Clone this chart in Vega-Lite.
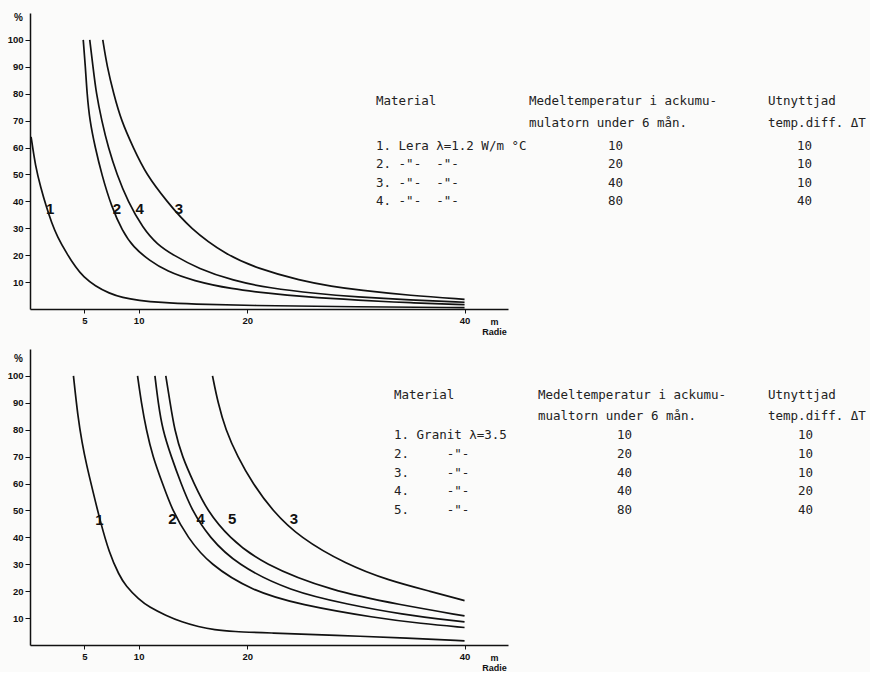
{
  "$schema": "https://vega.github.io/schema/vega-lite/v6.json",
  "background": "#fbfbfa",
  "padding": {"left": 7, "top": 12, "right": 0, "bottom": 0},
  "spacing": 13,
  "config": {
    "view": {"stroke": null},
    "axis": {"labelFont": "Liberation Sans", "titleFont": "Liberation Sans", "domainColor": "#111", "tickColor": "#111", "labelColor": "#111", "titleColor": "#111", "grid": false, "labelOverlap": false}
  },
  "datasets": {
    "top_curves": [
      {"curve": "1", "r": 0.1, "p": 64}, {"curve": "1", "r": 0.5, "p": 53}, {"curve": "1", "r": 1, "p": 45}, {"curve": "1", "r": 1.5, "p": 38}, {"curve": "1", "r": 2, "p": 32}, {"curve": "1", "r": 2.5, "p": 27}, {"curve": "1", "r": 3.4, "p": 20.5}, {"curve": "1", "r": 4.2, "p": 15.5}, {"curve": "1", "r": 4.9, "p": 12}, {"curve": "1", "r": 6, "p": 8.5}, {"curve": "1", "r": 7.3, "p": 5.8}, {"curve": "1", "r": 8.5, "p": 4.2}, {"curve": "1", "r": 10, "p": 3.2}, {"curve": "1", "r": 12, "p": 2.4}, {"curve": "1", "r": 15, "p": 1.8}, {"curve": "1", "r": 20, "p": 1.3}, {"curve": "1", "r": 30, "p": 0.8}, {"curve": "1", "r": 40, "p": 0.5},
      {"curve": "2", "r": 4.9, "p": 100}, {"curve": "2", "r": 5.1, "p": 90}, {"curve": "2", "r": 5.25, "p": 80}, {"curve": "2", "r": 5.5, "p": 70}, {"curve": "2", "r": 6.0, "p": 60}, {"curve": "2", "r": 6.6, "p": 50}, {"curve": "2", "r": 7.5, "p": 38}, {"curve": "2", "r": 8.5, "p": 29}, {"curve": "2", "r": 9.5, "p": 23}, {"curve": "2", "r": 11, "p": 18}, {"curve": "2", "r": 12.6, "p": 14}, {"curve": "2", "r": 15, "p": 10.5}, {"curve": "2", "r": 18.6, "p": 7.4}, {"curve": "2", "r": 22, "p": 5.8}, {"curve": "2", "r": 25, "p": 4.6}, {"curve": "2", "r": 30.3, "p": 3.2}, {"curve": "2", "r": 35, "p": 2.3}, {"curve": "2", "r": 40, "p": 1.6},
      {"curve": "4", "r": 5.5, "p": 100}, {"curve": "4", "r": 5.8, "p": 90}, {"curve": "4", "r": 6.1, "p": 80}, {"curve": "4", "r": 6.6, "p": 70}, {"curve": "4", "r": 7.2, "p": 60}, {"curve": "4", "r": 8.0, "p": 50}, {"curve": "4", "r": 9.0, "p": 40}, {"curve": "4", "r": 10.4, "p": 30}, {"curve": "4", "r": 11.7, "p": 24}, {"curve": "4", "r": 13.2, "p": 20}, {"curve": "4", "r": 15.5, "p": 15}, {"curve": "4", "r": 18.7, "p": 10.5}, {"curve": "4", "r": 22, "p": 7.8}, {"curve": "4", "r": 26.4, "p": 5.7}, {"curve": "4", "r": 30, "p": 4.5}, {"curve": "4", "r": 35, "p": 3.3}, {"curve": "4", "r": 40, "p": 2.5},
      {"curve": "3", "r": 6.7, "p": 100}, {"curve": "3", "r": 7.1, "p": 90}, {"curve": "3", "r": 7.7, "p": 80}, {"curve": "3", "r": 8.4, "p": 70}, {"curve": "3", "r": 9.5, "p": 60}, {"curve": "3", "r": 10.7, "p": 50}, {"curve": "3", "r": 12.6, "p": 40}, {"curve": "3", "r": 14.7, "p": 30}, {"curve": "3", "r": 18.1, "p": 20}, {"curve": "3", "r": 21, "p": 15}, {"curve": "3", "r": 24.9, "p": 10.5}, {"curve": "3", "r": 27.8, "p": 8.4}, {"curve": "3", "r": 30.3, "p": 7}, {"curve": "3", "r": 35, "p": 5}, {"curve": "3", "r": 40, "p": 3.6}
    ],
    "top_labels": [
      {"r": 1.85, "p": 37, "label": "1"}, {"r": 8.0, "p": 37, "label": "2"}, {"r": 10.1, "p": 37, "label": "4"}, {"r": 13.7, "p": 37, "label": "3"}
    ],
    "top_table": [
      {"col": 1, "row": 1, "text": "Material"},
      {"col": 2, "row": 1, "text": "Medeltemperatur i ackumu-"},
      {"col": 4, "row": 1, "text": "Utnyttjad"},
      {"col": 2, "row": 2, "text": "mulatorn under 6 mån."},
      {"col": 4, "row": 2, "text": "temp.diff. ΔT"},
      {"col": 1, "row": 3, "text": "1. Lera λ=1.2 W/m °C"},
      {"col": 1, "row": 4, "text": "2.\u00a0-\"-\u00a0\u00a0-\"-"},
      {"col": 1, "row": 5, "text": "3.\u00a0-\"-\u00a0\u00a0-\"-"},
      {"col": 1, "row": 6, "text": "4.\u00a0-\"-\u00a0\u00a0-\"-"},
      {"col": 3, "row": 3, "text": "10"}, {"col": 5, "row": 3, "text": "10"},
      {"col": 3, "row": 4, "text": "20"}, {"col": 5, "row": 4, "text": "10"},
      {"col": 3, "row": 5, "text": "40"}, {"col": 5, "row": 5, "text": "10"},
      {"col": 3, "row": 6, "text": "80"}, {"col": 5, "row": 6, "text": "40"}
    ],
    "bot_curves": [
      {"curve": "1", "r": 4.0, "p": 100}, {"curve": "1", "r": 4.4, "p": 85}, {"curve": "1", "r": 4.8, "p": 75}, {"curve": "1", "r": 5.2, "p": 67}, {"curve": "1", "r": 5.8, "p": 57}, {"curve": "1", "r": 6.4, "p": 47}, {"curve": "1", "r": 7.3, "p": 34}, {"curve": "1", "r": 8.2, "p": 26}, {"curve": "1", "r": 8.8, "p": 22}, {"curve": "1", "r": 10, "p": 17}, {"curve": "1", "r": 11, "p": 14}, {"curve": "1", "r": 12.5, "p": 11}, {"curve": "1", "r": 14, "p": 8.5}, {"curve": "1", "r": 15.5, "p": 6.8}, {"curve": "1", "r": 17, "p": 5.6}, {"curve": "1", "r": 18.6, "p": 5}, {"curve": "1", "r": 22, "p": 4.5}, {"curve": "1", "r": 28, "p": 3.6}, {"curve": "1", "r": 35, "p": 2.6}, {"curve": "1", "r": 40, "p": 1.5},
      {"curve": "2", "r": 9.9, "p": 100}, {"curve": "2", "r": 10.25, "p": 90}, {"curve": "2", "r": 10.7, "p": 80}, {"curve": "2", "r": 11.3, "p": 70}, {"curve": "2", "r": 12.2, "p": 60}, {"curve": "2", "r": 13.1, "p": 50}, {"curve": "2", "r": 14.5, "p": 40}, {"curve": "2", "r": 16.5, "p": 30}, {"curve": "2", "r": 20.5, "p": 20}, {"curve": "2", "r": 24.8, "p": 15}, {"curve": "2", "r": 31.9, "p": 10}, {"curve": "2", "r": 36, "p": 8}, {"curve": "2", "r": 40, "p": 6.5},
      {"curve": "4", "r": 11.5, "p": 100}, {"curve": "4", "r": 11.8, "p": 90}, {"curve": "4", "r": 12.2, "p": 80}, {"curve": "4", "r": 13.0, "p": 70}, {"curve": "4", "r": 13.9, "p": 60}, {"curve": "4", "r": 14.9, "p": 50}, {"curve": "4", "r": 16.5, "p": 40}, {"curve": "4", "r": 19.0, "p": 30}, {"curve": "4", "r": 23.9, "p": 20}, {"curve": "4", "r": 29.4, "p": 15}, {"curve": "4", "r": 34, "p": 11.5}, {"curve": "4", "r": 40, "p": 8.6},
      {"curve": "5", "r": 12.5, "p": 100}, {"curve": "5", "r": 12.9, "p": 90}, {"curve": "5", "r": 13.3, "p": 80}, {"curve": "5", "r": 14.0, "p": 70}, {"curve": "5", "r": 15.1, "p": 60}, {"curve": "5", "r": 16.3, "p": 50}, {"curve": "5", "r": 18.3, "p": 40}, {"curve": "5", "r": 21.4, "p": 30}, {"curve": "5", "r": 27.8, "p": 20}, {"curve": "5", "r": 34, "p": 15}, {"curve": "5", "r": 40, "p": 10.8},
      {"curve": "3", "r": 16.8, "p": 100}, {"curve": "3", "r": 17.3, "p": 90}, {"curve": "3", "r": 18.0, "p": 80}, {"curve": "3", "r": 19.1, "p": 70}, {"curve": "3", "r": 20.5, "p": 60}, {"curve": "3", "r": 22.3, "p": 50}, {"curve": "3", "r": 24.8, "p": 40}, {"curve": "3", "r": 29.1, "p": 30}, {"curve": "3", "r": 33, "p": 24}, {"curve": "3", "r": 37, "p": 19.8}, {"curve": "3", "r": 40, "p": 16.5}
    ],
    "bot_labels": [
      {"r": 6.4, "p": 46.5, "label": "1"}, {"r": 13.1, "p": 47, "label": "2"}, {"r": 15.7, "p": 47, "label": "4"}, {"r": 18.6, "p": 47, "label": "5"}, {"r": 24.3, "p": 47, "label": "3"}
    ],
    "bot_table": [
      {"col": 1, "row": 1, "text": "Material"},
      {"col": 2, "row": 1, "text": "Medeltemperatur i ackumu-"},
      {"col": 4, "row": 1, "text": "Utnyttjad"},
      {"col": 2, "row": 2, "text": "mualtorn under 6 mån."},
      {"col": 4, "row": 2, "text": "temp.diff. ΔT"},
      {"col": 1, "row": 3, "text": "1. Granit λ=3.5"},
      {"col": 1, "row": 4, "text": "2.\u00a0\u00a0\u00a0\u00a0\u00a0-\"-"},
      {"col": 1, "row": 5, "text": "3.\u00a0\u00a0\u00a0\u00a0\u00a0-\"-"},
      {"col": 1, "row": 6, "text": "4.\u00a0\u00a0\u00a0\u00a0\u00a0-\"-"},
      {"col": 1, "row": 7, "text": "5.\u00a0\u00a0\u00a0\u00a0\u00a0-\"-"},
      {"col": 3, "row": 3, "text": "10"}, {"col": 5, "row": 3, "text": "10"},
      {"col": 3, "row": 4, "text": "20"}, {"col": 5, "row": 4, "text": "10"},
      {"col": 3, "row": 5, "text": "40"}, {"col": 5, "row": 5, "text": "10"},
      {"col": 3, "row": 6, "text": "40"}, {"col": 5, "row": 6, "text": "20"},
      {"col": 3, "row": 7, "text": "80"}, {"col": 5, "row": 7, "text": "40"}
    ]
  },
  "vconcat": [
    {
      "width": 840,
      "height": 296,
      "resolve": {"scale": {"x": "independent", "y": "independent"}},
      "layer": [
        {
          "data": {"name": "top_curves"},
          "mark": {"type": "line", "color": "#111", "strokeWidth": 1.7, "interpolate": "basis"},
          "encoding": {
            "x": {"field": "r", "type": "quantitative", "scale": {"domain": [0, 44], "range": [0, 478], "nice": false},
              "axis": {"values": [5, 10, 20, 40], "title": ["m", "Radie"], "titleX": 464, "titleY": 8, "titleAlign": "center", "titleBaseline": "top", "titleLineHeight": 10, "titleFontSize": 9, "titleFontWeight": "bold", "labelFontSize": 9.5, "labelFontWeight": "bold", "tickSize": 4, "labelPadding": 2, "domainWidth": 1.5, "labelOverlap": false}},
            "y": {"field": "p", "type": "quantitative", "scale": {"domain": [0, 110], "nice": false},
              "axis": {"values": [10, 20, 30, 40, 50, 60, 70, 80, 90, 100], "title": "%", "titleAngle": 0, "titleX": -12, "titleY": 4, "titleAlign": "center", "titleBaseline": "middle", "titleFontSize": 10, "titleFontWeight": "bold", "labelFontSize": 9.5, "labelFontWeight": "bold", "tickSize": 5, "labelPadding": 2, "domainWidth": 1.5, "labelOverlap": false}},
            "detail": {"field": "curve"}
          }
        },
        {
          "data": {"name": "top_labels"},
          "mark": {"type": "text", "font": "Liberation Sans", "fontSize": 15, "fontWeight": "bold", "color": "#111", "baseline": "middle"},
          "encoding": {
            "x": {"field": "r", "type": "quantitative", "scale": {"domain": [0, 44], "range": [0, 478], "nice": false}, "axis": null},
            "y": {"field": "p", "type": "quantitative", "scale": {"domain": [0, 110], "nice": false}, "axis": null},
            "text": {"field": "label"}
          }
        },
        {
          "data": {"name": "top_table"},
          "mark": {"type": "text", "font": "DejaVu Sans Mono", "fontSize": 12.5, "color": "#222", "align": "left", "baseline": "middle"},
          "encoding": {
            "x": {"field": "col", "type": "quantitative", "scale": {"domain": [1, 2, 3, 4, 5], "range": [346, 499, 578, 738, 767], "zero": false, "nice": false}, "axis": null},
            "y": {"field": "row", "type": "quantitative", "scale": {"domain": [1, 2, 3, 6], "range": [88, 110, 133, 188], "zero": false, "nice": false}, "axis": null},
            "text": {"field": "text"}
          }
        }
      ]
    },
    {
      "width": 840,
      "height": 296,
      "resolve": {"scale": {"x": "independent", "y": "independent"}},
      "layer": [
        {
          "data": {"name": "bot_curves"},
          "mark": {"type": "line", "color": "#111", "strokeWidth": 1.7, "interpolate": "basis"},
          "encoding": {
            "x": {"field": "r", "type": "quantitative", "scale": {"domain": [0, 44], "range": [0, 478], "nice": false},
              "axis": {"values": [5, 10, 20, 40], "title": ["m", "Radie"], "titleX": 464, "titleY": 8, "titleAlign": "center", "titleBaseline": "top", "titleLineHeight": 10, "titleFontSize": 9, "titleFontWeight": "bold", "labelFontSize": 9.5, "labelFontWeight": "bold", "tickSize": 4, "labelPadding": 2, "domainWidth": 1.5, "labelOverlap": false}},
            "y": {"field": "p", "type": "quantitative", "scale": {"domain": [0, 110], "nice": false},
              "axis": {"values": [10, 20, 30, 40, 50, 60, 70, 80, 90, 100], "title": "%", "titleAngle": 0, "titleX": -12, "titleY": 9, "titleAlign": "center", "titleBaseline": "middle", "titleFontSize": 10, "titleFontWeight": "bold", "labelFontSize": 9.5, "labelFontWeight": "bold", "tickSize": 5, "labelPadding": 2, "domainWidth": 1.5, "labelOverlap": false}},
            "detail": {"field": "curve"}
          }
        },
        {
          "data": {"name": "bot_labels"},
          "mark": {"type": "text", "font": "Liberation Sans", "fontSize": 15, "fontWeight": "bold", "color": "#111", "baseline": "middle"},
          "encoding": {
            "x": {"field": "r", "type": "quantitative", "scale": {"domain": [0, 44], "range": [0, 478], "nice": false}, "axis": null},
            "y": {"field": "p", "type": "quantitative", "scale": {"domain": [0, 110], "nice": false}, "axis": null},
            "text": {"field": "label"}
          }
        },
        {
          "data": {"name": "bot_table"},
          "mark": {"type": "text", "font": "DejaVu Sans Mono", "fontSize": 12.5, "color": "#222", "align": "left", "baseline": "middle"},
          "encoding": {
            "x": {"field": "col", "type": "quantitative", "scale": {"domain": [1, 2, 3, 4, 5], "range": [364, 508, 587, 738, 768], "zero": false, "nice": false}, "axis": null},
            "y": {"field": "row", "type": "quantitative", "scale": {"domain": [1, 2, 3, 7], "range": [46, 67, 86, 161], "zero": false, "nice": false}, "axis": null},
            "text": {"field": "text"}
          }
        }
      ]
    }
  ]
}
